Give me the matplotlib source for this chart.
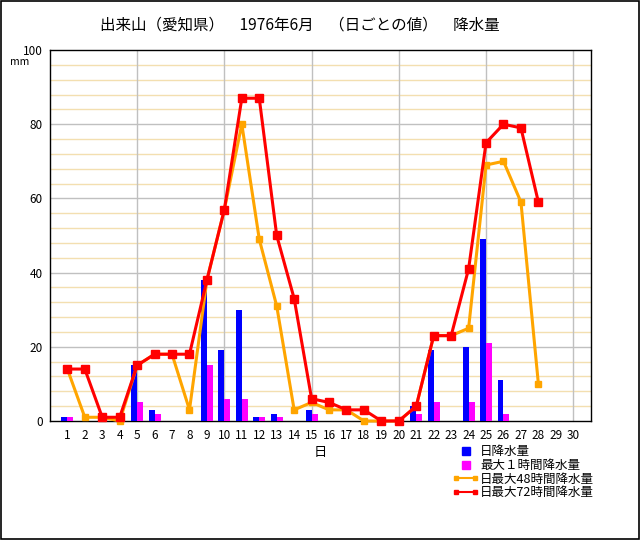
import numpy as np
import matplotlib
matplotlib.use('Agg')
import matplotlib.pyplot as plt
from matplotlib.lines import Line2D
from matplotlib.patches import Rectangle
from matplotlib.legend_handler import HandlerLine2D

plt.rcParams['font.family'] = ['Noto Sans CJK JP', 'DejaVu Sans']

# Data (June 1976, 出来山)
days = np.arange(1, 31)
daily = [1, 0, 0, 0, 15, 3, 0, 0, 38, 19, 30, 1, 2, 0, 3, 0, 0, 0, 0, 0,
         4, 19, 0, 20, 49, 11, 0, 0, 0, 0]
max_1h = [1, 0, 0, 0, 5, 2, 0, 0, 15, 6, 6, 1, 1, 0, 2, 0, 0, 0, 0, 0,
          2, 5, 0, 5, 21, 2, 0, 0, 0, 0]
max_48h = [14, 1, 1, 0, 15, 18, 18, 3, 38, 57, 80, 49, 31, 3, 5, 3, 3, 0, 0, 0,
           4, 23, 23, 25, 69, 70, 59, 10, np.nan, np.nan]
max_72h = [14, 14, 1, 1, 15, 18, 18, 18, 38, 57, 87, 87, 50, 33, 6, 5, 3, 3, 0, 0,
           4, 23, 23, 41, 75, 80, 79, 59, np.nan, np.nan]

TITLE = '出来山（愛知県）　1976年6月　（日ごとの値）　降水量'
LABELS = ['日降水量', '最大１時間降水量', '日最大48時間降水量', '日最大72時間降水量']

fig = plt.figure(figsize=(6.4, 5.4), dpi=100)
fig.patches.append(Rectangle((0.001, 0.001), 0.997, 0.997, transform=fig.transFigure,
                             fill=False, edgecolor='black', linewidth=1.2))
ax = fig.add_axes([0.078, 0.2204, 0.845, 0.687])

bw = 0.34
daily_arr = np.array(daily, dtype=float)
h1_arr = np.array(max_1h, dtype=float)
ax.bar(days - bw / 2, np.where(daily_arr > 0, daily_arr, np.nan), width=bw,
       color='#0000ff', zorder=3)
ax.bar(days + bw / 2, np.where(h1_arr > 0, h1_arr, np.nan), width=bw,
       color='#ff00ff', zorder=3)

ax.plot(days, max_48h, color='#ffa500', linewidth=2.2, marker='s', markersize=5,
        zorder=4, clip_on=False)
ax.plot(days, max_72h, color='#ff0000', linewidth=2.2, marker='s', markersize=5.5,
        zorder=5, clip_on=False)

ax.set_xlim(0, 31)
ax.set_ylim(0, 100)
ax.set_xticks(days)
ax.set_xticklabels([str(d) for d in days], fontsize=8.5)
ax.set_yticks([0, 20, 40, 60, 80, 100])
ax.set_yticklabels(['0', '20', '40', '60', '80', '100'], fontsize=8.5)
ax.tick_params(axis='x', length=0, pad=6)
ax.tick_params(axis='y', length=0, pad=5)

# grid
for v in range(4, 100, 4):
    if v % 20:
        ax.axhline(v, color='#f3dfb0', linewidth=1, zorder=1)
for v in (20, 40, 60, 80):
    ax.axhline(v, color='#c0c0c0', linewidth=1, zorder=1.5)
for d in (5, 10, 15, 20, 25, 30):
    ax.axvline(d, color='#c0c0c0', linewidth=1, zorder=1.5)

for s in ax.spines.values():
    s.set_color('black')
    s.set_linewidth(1)

ax.set_xlabel('日', fontsize=9.5, labelpad=3)
fig.text(0.016, 0.885, 'mm', fontsize=7.5, va='center')
fig.text(0.469, 0.953, TITLE, fontsize=11.2, ha='center', va='center')

handles = [
    Line2D([], [], color='#0000ff', marker='s', linestyle='none', markersize=6),
    Line2D([], [], color='#ff00ff', marker='s', linestyle='none', markersize=6),
    Line2D([], [], color='#ffa500', marker='s', linewidth=1.5, markersize=3),
    Line2D([], [], color='#ff0000', marker='s', linewidth=1.5, markersize=3),
]
hmap = {handles[0]: HandlerLine2D(numpoints=1, marker_pad=0),
        handles[1]: HandlerLine2D(numpoints=1, marker_pad=0),
        handles[2]: HandlerLine2D(numpoints=2, marker_pad=0),
        handles[3]: HandlerLine2D(numpoints=2, marker_pad=0)}
fig.legend(handles, LABELS, loc='upper left', bbox_to_anchor=(0.703, 0.187),
           frameon=False, fontsize=9, handlelength=1.5, handletextpad=0.4,
           labelspacing=0.05, borderpad=0, handler_map=hmap)

fig.savefig('out.png', dpi=100)
